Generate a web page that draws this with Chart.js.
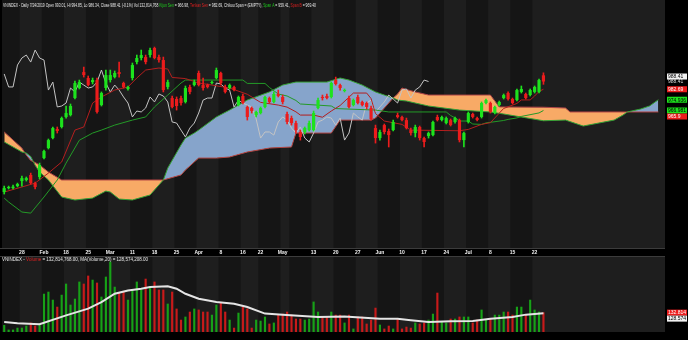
<!DOCTYPE html>
<html>
<head>
<meta charset="utf-8">
<script src="https://cdn.jsdelivr.net/npm/chart.js@4.4.1/dist/chart.umd.min.js"></script>
<style>
  html, body { margin: 0; padding: 0; background: #000; }
  #wrap { position: relative; width: 688px; height: 340px; overflow: hidden; background: #000; }
  canvas { position: absolute; left: 0; }
  #main { top: 0; }
  #vol { top: 257px; }
</style>
</head>
<body>
<div id="wrap">
  <canvas id="main" width="688" height="257"></canvas>
  <canvas id="vol" width="688" height="83"></canvas>
</div>
<script>
// VNINDEX daily candles with Ichimoku cloud, plus volume panel

// Trading calendar (HOSE holidays skipped), cloud runs 26 bars past the last day
const firstDay = "2019-01-22";
const lastTradeDay = "2019-07-24";
const holidays = ["2019-02-04", "2019-02-05", "2019-02-06", "2019-02-07", "2019-02-08",
  "2019-04-15", "2019-04-29", "2019-04-30", "2019-05-01"];
const futureBars = 27;

// Axis labels shown under the price panel
const tickLabels = [
  ["2019-01-28", "28"], ["2019-02-11", "Feb"], ["2019-02-18", "18"], ["2019-02-25", "25"],
  ["2019-03-04", "Mar"], ["2019-03-11", "11"], ["2019-03-18", "18"], ["2019-03-25", "25"],
  ["2019-04-01", "Apr"], ["2019-04-08", "8"], ["2019-04-16", "16"], ["2019-04-22", "22"],
  ["2019-05-02", "May"], ["2019-05-13", "13"], ["2019-05-20", "20"], ["2019-05-27", "27"],
  ["2019-06-03", "Jun"], ["2019-06-10", "10"], ["2019-06-17", "17"], ["2019-06-24", "24"],
  ["2019-07-01", "Jul"], ["2019-07-08", "8"], ["2019-07-15", "15"], ["2019-07-22", "22"],
];

// OHLC
const openP = [
  906.7, 909.6, 909.6, 911.1, 914.8, 915.6, 919.3, 913.3, 917.8, 931.8,
  939.2, 946.6, 953.3, 954.8, 962.2, 963.6, 976.2, 983.6, 995.4, 991.0,
  988.0, 989.5, 971.0, 983.6, 989.5, 991.7, 995.4, 987.3, 982.9, 991.0,
  1002.8, 1005.8, 1006.5, 1008.0, 1013.2, 1006.5, 1004.3, 984.4, 976.2, 975.5,
  976.2, 973.3, 984.4, 985.8, 994.7, 985.8, 985.8, 987.3, 991.0, 994.7,
  984.4, 983.6, 984.4, 971.0, 977.7, 969.6, 968.8, 963.6, 965.1, 969.6,
  976.2, 973.3, 979.2, 977.0, 964.4, 961.4, 957.7, 951.1, 951.1, 952.5,
  952.5, 968.8, 977.0, 977.7, 977.0, 989.5, 985.8, 981.4, 976.2, 971.0,
  977.0, 973.3, 972.5, 968.8, 954.0, 946.6, 956.2, 951.8, 952.5, 963.6,
  962.2, 959.9, 952.5, 950.3, 954.8, 946.6, 948.1, 948.8, 962.2, 959.9,
  957.7, 959.9, 958.5, 959.9, 945.1, 958.5, 964.4, 961.4, 962.2, 972.5,
  972.5, 965.1, 971.0, 976.2, 979.9, 975.5, 974.7, 980.7, 979.2, 978.4,
  980.7, 980.7, 993.01,
];
const highP = [
  911.1, 911.1, 911.9, 913.3, 918.5, 917.8, 920.7, 914.1, 928.1, 937.8,
  945.9, 954.8, 954.8, 962.2, 970.3, 971.8, 988.8, 989.5, 999.1, 992.5,
  991.0, 991.0, 980.7, 996.9, 996.9, 996.2, 1002.8, 988.0, 985.1, 1002.1,
  1008.0, 1011.7, 1008.0, 1013.2, 1013.9, 1008.0, 1006.5, 989.5, 977.7, 977.0,
  977.7, 985.1, 985.8, 989.5, 996.2, 991.0, 986.6, 988.8, 998.4, 995.4,
  985.8, 986.6, 985.1, 977.7, 979.2, 970.3, 969.6, 966.6, 969.6, 977.7,
  977.0, 980.7, 982.1, 978.4, 965.9, 962.9, 959.2, 952.5, 954.8, 959.2,
  966.6, 976.2, 978.4, 979.2, 988.0, 991.7, 986.6, 982.9, 977.7, 975.5,
  978.4, 974.0, 973.3, 970.3, 956.2, 952.5, 957.0, 953.3, 959.9, 965.1,
  962.9, 961.4, 954.0, 956.2, 955.5, 947.4, 951.1, 959.2, 963.6, 962.9,
  962.2, 960.7, 962.2, 960.7, 951.1, 965.9, 965.1, 962.2, 973.3, 975.5,
  973.3, 970.3, 974.0, 979.2, 980.7, 976.2, 982.9, 985.1, 979.9, 982.9,
  985.1, 990.3, 994.85,
];
const lowP = [
  905.2, 908.9, 908.9, 910.4, 911.1, 914.8, 912.6, 908.9, 916.3, 931.1,
  938.5, 945.9, 950.3, 954.0, 961.4, 962.9, 975.5, 982.9, 991.7, 985.1,
  986.6, 965.1, 970.3, 982.1, 988.0, 991.0, 991.7, 983.6, 982.1, 989.5,
  1001.4, 1004.3, 1001.4, 1006.5, 1005.1, 1002.8, 980.7, 982.9, 968.8, 967.3,
  971.0, 972.5, 979.2, 985.1, 985.1, 982.1, 983.6, 986.6, 990.3, 985.8,
  979.9, 982.9, 981.4, 970.3, 971.8, 959.9, 965.1, 962.2, 964.4, 968.8,
  972.5, 972.5, 977.0, 971.8, 957.0, 956.2, 950.3, 945.1, 949.6, 951.8,
  951.8, 968.1, 974.7, 975.5, 976.2, 985.8, 982.1, 980.7, 968.8, 970.3,
  971.8, 970.3, 968.1, 959.9, 942.9, 945.1, 949.6, 940.0, 951.8, 961.4,
  959.2, 953.3, 948.8, 947.4, 945.1, 940.0, 946.6, 948.1, 959.2, 959.2,
  957.0, 955.5, 957.7, 943.7, 940.0, 957.7, 961.4, 959.2, 961.4, 971.8,
  965.1, 964.4, 970.3, 975.5, 974.7, 971.8, 974.0, 979.9, 975.5, 977.7,
  979.9, 979.9, 986.34,
];
const closeP = [
  909.6, 910.4, 910.7, 912.6, 917.0, 917.0, 913.3, 910.4, 926.7, 937.0,
  945.1, 954.0, 951.8, 961.4, 965.1, 970.3, 987.3, 988.0, 993.2, 985.8,
  989.5, 965.9, 979.9, 993.2, 993.2, 994.7, 994.0, 984.4, 984.4, 1000.6,
  1005.8, 1008.0, 1002.8, 1011.7, 1005.8, 1004.3, 982.1, 988.0, 969.6, 970.3,
  972.5, 983.6, 980.7, 988.0, 985.8, 983.6, 984.4, 988.0, 996.9, 987.3,
  980.7, 985.8, 982.1, 977.0, 972.5, 962.2, 966.6, 965.9, 968.8, 977.0,
  973.3, 979.2, 977.7, 973.3, 958.5, 957.7, 952.5, 947.4, 954.0, 957.7,
  965.1, 974.7, 976.2, 976.2, 987.3, 986.6, 983.6, 982.1, 969.6, 974.7,
  972.5, 971.0, 969.6, 960.7, 946.6, 951.1, 951.1, 948.8, 958.5, 962.2,
  959.9, 954.0, 950.3, 954.8, 946.6, 943.7, 950.3, 958.5, 959.9, 962.2,
  961.4, 956.2, 961.4, 945.1, 950.3, 965.1, 962.2, 959.9, 972.5, 974.7,
  965.9, 969.6, 973.3, 978.4, 975.5, 972.5, 982.1, 982.9, 976.2, 982.1,
  984.4, 989.5, 988.41,
];

// Volume, millions of shares
const volumeM = [
  46, 14, 14, 27, 27, 41, 62, 41, 55, 260,
  274, 219, 171, 253, 329, 185, 226, 343, 329, 384,
  356, 336, 240, 377, 480, 308, 267, 274, 219, 288,
  343, 288, 363, 308, 343, 288, 288, 192, 274, 158,
  82, 103, 137, 158, 151, 137, 137, 116, 185, 199,
  137, 82, 27, 130, 171, 158, 27, 82, 75, 103,
  55, 62, 116, 123, 137, 116, 89, 89, 82, 89,
  206, 137, 103, 103, 137, 116, 116, 62, 116, 21,
  103, 103, 55, 82, 164, 48, 21, 41, 21, 89,
  21, 34, 27, 62, 55, 62, 82, 123, 267, 68,
  62, 89, 89, 103, 103, 103, 62, 82, 151, 82,
  89, 116, 116, 137, 137, 116, 171, 171, 116, 219,
  151, 137, 132.81,
];

// Lines as [bar index, value]
const tenkanPts = [
  [0, 906.7], [4, 910.4], [7, 913.3], [10, 920.7], [13, 928.9], [16, 952.5], [18, 954.8],
  [20, 972.5], [22, 977.0], [25, 982.1], [28, 984.4], [30, 991.0], [32, 996.9], [35, 998.4],
  [37, 997.7], [38, 991.4], [41, 990.6], [44, 987.3], [47, 985.8], [51, 983.6], [55, 979.0],
  [58, 973.0], [62, 971.0], [64, 969.5], [66, 966.0], [67, 963.6], [70, 963.6], [72, 962.0],
  [74, 966.6], [76, 970.7], [79, 979.9], [82, 979.9], [83, 975.8], [84, 964.7], [86, 959.2],
  [90, 956.7], [92, 952.5], [103, 952.0], [105, 953.0], [108, 956.7], [110, 958.0],
  [113, 968.5], [116, 972.2], [117, 974.8], [119, 974.8], [120, 977.7], [121, 981.1], [122, 982.69],
];
const kijunPts = [
  [0, 902.2], [1, 899.3], [4, 891.9], [6, 891.1], [9, 903.0], [12, 915.6], [14, 928.1],
  [17, 945.0], [20, 950.3], [22, 952.5], [25, 956.2], [29, 959.9], [32, 962.2], [34, 969.6],
  [37, 978.4], [40, 987.3], [41, 989.5], [54, 989.5], [55, 987.0], [59, 987.0], [60, 984.0],
  [62, 979.2], [64, 977.7], [66, 974.4], [67, 971.8], [74, 970.3], [75, 968.4], [84, 967.3],
  [87, 965.9], [100, 965.9], [101, 963.3], [102, 961.5], [103, 959.2], [105, 959.2],
  [106, 957.0], [108, 956.7], [109, 957.8], [113, 959.6], [114, 960.4], [116, 961.5],
  [117, 962.6], [121, 965.2], [122, 966.98],
];
const spanAPts = [
  [0, 943.7], [4, 936.3], [5, 935.5], [6, 933.0], [7, 926.5], [8, 921.5], [10, 915.6],
  [13, 903.0], [16, 900.8], [20, 902.2], [23, 907.4], [24, 906.7], [26, 901.5], [29, 900.8],
  [33, 904.5], [36, 915.6], [37, 924.4], [40, 941.5], [41, 946.6], [43, 950.3], [44, 952.5],
  [48, 962.2], [51, 967.3], [55, 974.7], [60, 980.7], [63, 985.8], [65, 987.3], [66, 988.0],
  [73, 988.0], [76, 991.0], [78, 989.5], [81, 985.8], [84, 980.7], [86, 978.4], [88, 976.2],
  [89, 974.7], [91, 974.0], [93, 972.5], [96, 970.3], [103, 967.3], [110, 965.9], [113, 964.4],
  [122, 959.41], [127, 959.9], [131, 955.5], [138, 959.9], [140, 963.6], [141, 965.9],
  [144, 968.1], [146, 970.3], [148, 974.94],
];
const spanBPts = [
  [0, 951.1], [4, 939.2], [5, 934.0], [6, 930.0], [7, 928.5], [8, 926.7], [10, 921.5],
  [13, 915.6], [36, 915.6], [40, 919.3], [41, 922.9], [43, 928.9], [44, 931.8], [48, 931.8],
  [51, 932.6], [55, 936.3], [60, 939.2], [65, 940.0], [66, 950.3], [74, 950.3], [76, 959.9],
  [83, 959.9], [84, 961.4], [86, 968.8], [88, 976.2], [89, 979.2], [90, 983.6], [91, 982.5],
  [93, 980.7], [96, 978.4], [110, 978.4], [112, 969.6], [122, 969.4], [127, 968.8],
  [128, 965.9], [148, 965.9],
];
// Chikou span: the white lagging line
const chikou = [
  994.0, 984.4, 984.4, 1000.6, 1005.8, 1008.0, 1002.8, 1011.7, 1005.8, 1004.3,
  982.1, 988.0, 969.6, 970.3, 972.5, 983.6, 980.7, 988.0, 985.8, 983.6,
  984.4, 988.0, 996.9, 987.3, 980.7, 985.8, 982.1, 977.0, 972.5, 962.2,
  966.6, 965.9, 968.8, 977.0, 973.3, 979.2, 977.7, 973.3, 958.5, 957.7,
  952.5, 947.4, 954.0, 957.7, 965.1, 974.7, 976.2, 976.2, 987.3, 986.6,
  983.6, 982.1, 969.6, 974.7, 972.5, 971.0, 969.6, 960.7, 946.6, 951.1,
  951.1, 948.8, 958.5, 962.2, 959.9, 954.0, 950.3, 954.8, 946.6, 943.7,
  950.3, 958.5, 959.9, 962.2, 961.4, 956.2, 961.4, 945.1, 950.3, 965.1,
  962.2, 959.9, 972.5, 974.7, 965.9, 969.6, 973.3, 978.4, 975.5, 972.5,
  982.1, 982.9, 976.2, 982.1, 984.4, 989.5, 988.41,
];
// MA(Volume,20), millions
const volMaPts = [
  [0, 68], [3, 60], [8, 53], [14, 114], [19, 160], [22, 205], [25, 262], [28, 285],
  [31, 297], [33, 308], [37, 313], [39, 297], [41, 262], [44, 228], [48, 205], [52, 194],
  [55, 171], [59, 126], [63, 119], [71, 103], [77, 107], [85, 91], [89, 91], [92, 80],
  [96, 68], [101, 73], [106, 75], [110, 91], [115, 103], [118, 119], [122, 128.57],
];

// ---------------------------------------------------------------

const GREEN = "#1de21d";
const RED = "#ec1c1c";
const FONT = "'Liberation Sans', Arial, sans-serif";

function buildDates() {
  const out = [];
  const d = new Date(firstDay + "T00:00:00Z");
  let extra = 0;
  while (true) {
    const key = d.toISOString().slice(0, 10);
    const wd = d.getUTCDay();
    if (wd !== 0 && wd !== 6 && !holidays.includes(key)) {
      if (key > lastTradeDay) {
        if (extra >= futureBars) break;
        extra++;
      }
      out.push(key);
    }
    d.setUTCDate(d.getUTCDate() + 1);
  }
  return out;
}
const dates = buildDates();
const tickMap = new Map(tickLabels);
const last = closeP.length - 1;

function toPoints(pts) {
  return pts.map(([i, v]) => ({ x: dates[i], y: v }));
}

// alternate shading per trading week
function darkWeeks() {
  const weeks = [];
  let prevDay = 9;
  let prevTime = 0;
  for (let i = 0; i < closeP.length; i++) {
    const d = new Date(dates[i] + "T00:00:00Z");
    const day = d.getUTCDay();
    if (!weeks.length || day <= prevDay || d - prevTime > 6 * 864e5) weeks.push([i, i]);
    else weeks[weeks.length - 1][1] = i;
    prevDay = day;
    prevTime = d;
  }
  return weeks.filter((w, k) => (weeks.length - 1 - k) % 2 === 1);
}
const bands = darkWeeks();

const candleColors = closeP.map((c, i) => (c >= openP[i] ? GREEN : RED));
const volColors = closeP.map((c, i) => (c >= openP[i] ? "#17a117" : "#c81a1a"));

function drawBands(chart) {
  const { ctx, chartArea: a, scales: { x } } = chart;
  const half = (x.getPixelForValue(1) - x.getPixelForValue(0)) / 2;
  ctx.save();
  ctx.fillStyle = "#1e1e1e";
  ctx.fillRect(a.left, a.top, a.right - a.left, a.bottom - a.top);
  ctx.fillStyle = "#151515";
  bands.forEach(([s, e]) => {
    const x0 = x.getPixelForValue(s) - half;
    const x1 = x.getPixelForValue(e) + half;
    ctx.fillRect(x0, a.top, x1 - x0, a.bottom - a.top);
  });
  ctx.restore();
}

// multi-coloured line of text squeezed to a given width
function drawRich(ctx, parts, x, y, width, size) {
  ctx.save();
  ctx.font = size + "px " + FONT;
  const total = parts.reduce((s, p) => s + ctx.measureText(p[0]).width, 0);
  ctx.translate(x, y);
  ctx.scale(width / total, 1);
  ctx.textBaseline = "middle";
  let cx = 0;
  parts.forEach(([t, c]) => {
    ctx.fillStyle = c;
    ctx.fillText(t, cx, 0);
    cx += ctx.measureText(t).width;
  });
  ctx.restore();
}

function drawTag(ctx, text, x, y, bg, fg) {
  ctx.save();
  if (bg) {
    ctx.fillStyle = bg;
    ctx.fillRect(x, y - 3, 20, 6);
  }
  ctx.fillStyle = fg;
  ctx.font = "5px " + FONT;
  ctx.textBaseline = "middle";
  ctx.fillText(text, x + 1, y + 0.5, 18);
  ctx.restore();
}

// stack tags so they never overlap
function placeTags(scale, tags) {
  tags.forEach((t) => (t.y = scale.getPixelForValue(t.v)));
  tags.sort((a, b) => a.y - b.y);
  for (let i = 1; i < tags.length; i++) {
    if (tags[i].y < tags[i - 1].y + 6) tags[i].y = tags[i - 1].y + 6;
  }
  return tags;
}

const mainDecor = {
  id: "mainDecor",
  beforeDraw(chart) {
    const { ctx, chartArea: a } = chart;
    drawBands(chart);
    // date strip
    ctx.save();
    ctx.fillStyle = "#000";
    ctx.fillRect(0, a.bottom, a.right, chart.height - a.bottom);
    ctx.fillStyle = "#3c3c3c";
    ctx.fillRect(0, a.bottom, a.right, 1);
    ctx.fillRect(0, chart.height - 1, a.right, 1);
    ctx.restore();
  },
  afterDraw(chart) {
    const { ctx } = chart;
    const f = (v) => v.toFixed(2);
    drawRich(ctx, [
      ["VNINDEX - Daily 7/24/2019 Open " + f(openP[last]) + ", Hi " + f(highP[last]) + ", Lo " +
        f(lowP[last]) + ", Close " + f(closeP[last]) + " (-0.1%) Vol 132,814,768 ", "#e8e8e8"],
      ["Kijun Sen", "#1ed01e"],
      [" = " + f(kijunPts[kijunPts.length - 1][1]) + ", ", "#e8e8e8"],
      ["Tenkan Sen", "#e02020"],
      [" = " + f(tenkanPts[tenkanPts.length - 1][1]) + ", Chikou Span = (EMPTY), ", "#e8e8e8"],
      ["Span A", "#1ed01e"],
      [" = 959.41, ", "#e8e8e8"],
      ["Span B", "#e02020"],
      [" = 969.40", "#e8e8e8"],
    ], 3, 5, 313, 6);

    const y = chart.scales.y;
    const tags = placeTags(y, [
      { v: closeP[last], bg: null, fg: "#d8d8d8", t: f(closeP[last]) },
      { v: tenkanPts[tenkanPts.length - 1][1], bg: RED, fg: "#fff", t: "982.69" },
      { v: spanAPts[spanAPts.length - 1][1], bg: GREEN, fg: "#000", t: "974.936" },
      { v: kijunPts[kijunPts.length - 1][1], bg: GREEN, fg: "#000", t: "966.981" },
      { v: spanBPts[spanBPts.length - 1][1], bg: RED, fg: "#fff", t: "965.9" },
    ]);
    const xr = chart.chartArea.right + 2;
    drawTag(ctx, f(closeP[last]), xr, y.getPixelForValue(closeP[last]) - 5, "#f2f2f2", "#000");
    tags.forEach((t) => drawTag(ctx, t.t, xr, t.y, t.bg, t.fg));
  },
};

new Chart(document.getElementById("main"), {
  type: "bar",
  data: {
    labels: dates,
    datasets: [
      {
        label: "Body", data: openP.map((o, i) => [o, closeP[i]]), backgroundColor: candleColors,
        barPercentage: 0.72, categoryPercentage: 1, grouped: false, minBarLength: 1, order: 1,
      },
      {
        label: "Wick", data: lowP.map((l, i) => [l, highP[i]]), backgroundColor: candleColors,
        barThickness: 1, grouped: false, order: 2,
      },
      {
        type: "line", label: "Tenkan", data: toPoints(tenkanPts), borderColor: "#b41e1e",
        borderWidth: 1, pointRadius: 0, order: 3,
      },
      {
        type: "line", label: "Kijun", data: toPoints(kijunPts), borderColor: "#239a27",
        borderWidth: 1, pointRadius: 0, order: 4,
      },
      {
        type: "line", label: "Chikou", data: chikou, borderColor: "#c4c4c4",
        borderWidth: 1, pointRadius: 0, order: 5,
      },
      {
        type: "line", label: "Span A", data: toPoints(spanAPts), borderColor: "#35a035",
        borderWidth: 1, pointRadius: 0, order: 8,
        fill: { target: 6, above: "#86a4cb", below: "#f8aa66" },
      },
      {
        type: "line", label: "Span B", data: toPoints(spanBPts), borderColor: "#b24545",
        borderWidth: 1, pointRadius: 0, order: 9,
      },
    ],
  },
  options: {
    responsive: false,
    animation: false,
    devicePixelRatio: 1,
    events: [],
    layout: { padding: { left: 2, right: 0, top: 0, bottom: 0 } },
    plugins: {
      legend: { display: false },
      tooltip: { enabled: false },
      filler: { drawTime: "beforeDatasetsDraw" },
    },
    scales: {
      x: {
        grid: { display: false, drawTicks: false },
        border: { display: false },
        ticks: {
          autoSkip: false, maxRotation: 0, padding: 2, color: "#f0f0f0",
          font: { family: FONT, size: 5, weight: "bold" },
          callback: (v) => tickMap.get(dates[v]) || "",
        },
        afterFit: (s) => { s.height = 9; },
      },
      y: {
        position: "right", min: 865.3, max: 1048.7,
        grid: { display: false, drawTicks: false },
        border: { display: false },
        ticks: { display: false },
        afterFit: (s) => { s.width = 23; },
      },
    },
  },
  plugins: [mainDecor],
});

const volDecor = {
  id: "volDecor",
  beforeDraw(chart) {
    drawBands(chart);
  },
  afterDraw(chart) {
    const { ctx } = chart;
    drawRich(ctx, [
      ["VNINDEX - ", "#e8e8e8"],
      ["Volume", "#e02020"],
      [" = 132,814,768.00, MA(Volume,20) = 128,574,208.00", "#e8e8e8"],
    ], 2, 2, 146, 6);
    const y = chart.scales.y;
    const tags = placeTags(y, [
      { v: volumeM[last], bg: RED, fg: "#fff", t: "132.814" },
      { v: volMaPts[volMaPts.length - 1][1], bg: "#f2f2f2", fg: "#000", t: "128.574" },
    ]);
    tags.forEach((t) => drawTag(ctx, t.t, chart.chartArea.right + 2, t.y, t.bg, t.fg));
  },
};

new Chart(document.getElementById("vol"), {
  type: "bar",
  data: {
    labels: dates,
    datasets: [
      {
        label: "Volume", data: volumeM, backgroundColor: volColors,
        barThickness: 1.5, grouped: false, order: 2,
      },
      {
        type: "line", label: "MA(Volume,20)", data: toPoints(volMaPts), borderColor: "#e4e4e4",
        borderWidth: 2, pointRadius: 0, order: 1,
      },
    ],
  },
  options: {
    responsive: false,
    animation: false,
    devicePixelRatio: 1,
    events: [],
    layout: { padding: { left: 2, right: 0, top: 0, bottom: 0 } },
    plugins: { legend: { display: false }, tooltip: { enabled: false } },
    scales: {
      x: {
        grid: { display: false, drawTicks: false },
        border: { display: false },
        ticks: { display: false },
        afterFit: (s) => { s.height = 8; },
      },
      y: {
        position: "right", min: 0, max: 514,
        grid: { display: false, drawTicks: false },
        border: { display: false },
        ticks: { display: false },
        afterFit: (s) => { s.width = 23; },
      },
    },
  },
  plugins: [volDecor],
});
</script>
</body>
</html>
